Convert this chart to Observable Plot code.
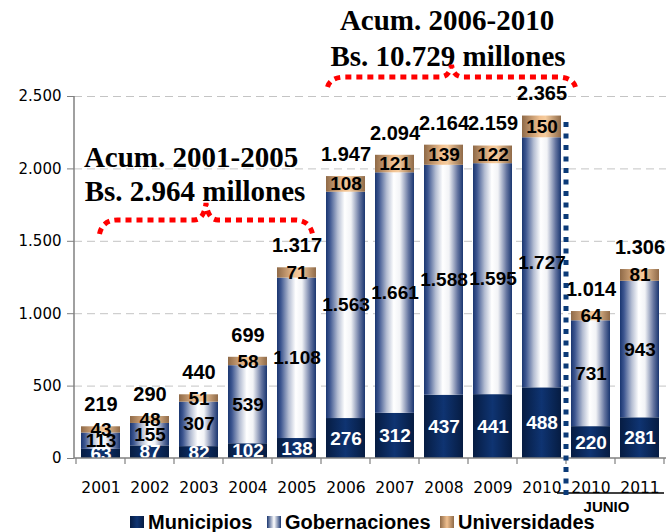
<!DOCTYPE html>
<html>
<head>
<meta charset="utf-8">
<script src="https://cdn.jsdelivr.net/npm/d3@7"></script>
<script src="https://cdn.jsdelivr.net/npm/@observablehq/plot@0.6"></script>
<style>
  html, body { margin: 0; padding: 0; background: #fff; }
  #wrap { width: 669px; height: 532px; position: relative; overflow: hidden; }
  #legend { position: absolute; left: 0; top: 512px; width: 669px; height: 20px;
            font-family: Arial, "Liberation Sans", sans-serif; font-weight: bold; font-size: 20px; color: #000; }
  .item { position: absolute; top: 0; height: 20px; display: flex; align-items: center; white-space: nowrap; }
  .sw { display: inline-block; width: 14px; height: 12px; margin-right: 4px; }
</style>
</head>
<body>
<div id="wrap">
  <div id="chart"></div>
  <div id="legend"></div>
</div>
<script>
// ---------------- data ----------------
const categories = ["2001","2002","2003","2004","2005","2006","2007","2008","2009","2010","2010 jun","2011 jun"];
const tickLabels = ["2001","2002","2003","2004","2005","2006","2007","2008","2009","2010","2010","2011"];
const series = ["Municipios","Gobernaciones","Universidades"];
const municipios    = [63, 87, 82, 102, 138, 276, 312, 437, 441, 488, 220, 281];
const gobernaciones = [113, 155, 307, 539, 1108, 1563, 1661, 1588, 1595, 1727, 731, 943];
const universidades = [43, 48, 51, 58, 71, 108, 121, 139, 122, 150, 64, 81];
const totals        = [219, 290, 440, 699, 1317, 1947, 2094, 2164, 2159, 2365, 1014, 1306];
const yTicks = [0, 500, 1000, 1500, 2000, 2500];
const annotPeriods = ["Acum. 2001-2005", "Acum. 2006-2010"];
const annotAmounts = ["Bs. 2.964 millones", "Bs. 10.729 millones"];
const juneLabel = "JUNIO";

// ---------------- helpers ----------------
const fmt = d3.formatLocale({decimal: ",", thousands: ".", grouping: [3], currency: ["", ""]}).format(",d");
const values = [municipios, gobernaciones, universidades];
const rows = [];
categories.forEach((c, i) => {
  let base = 0;
  series.forEach((s, j) => {
    const v = values[j][i];
    rows.push({cat: c, series: s, value: v, mid: base + v / 2});
    base += v;
  });
});
const sans = "Arial, 'Liberation Sans', sans-serif";
const serif = "'Liberation Serif', 'Times New Roman', serif";
const axisFont = "'DejaVu Sans', Verdana, sans-serif";

const chart = Plot.plot({
  width: 669,
  height: 512,
  marginTop: 96,
  marginRight: 3,
  marginBottom: 54,
  marginLeft: 74,
  style: {fontFamily: axisFont, fontSize: "15px", background: "white", color: "#000", overflow: "visible"},
  x: {domain: categories, paddingInner: 0.21, paddingOuter: 0.105, label: null},
  y: {domain: [0, 2500], label: null},
  color: {domain: series, range: ["url(#gMun)", "url(#gGob)", "url(#gUni)"]},
  marks: [
    Plot.gridY(yTicks.filter(v => v > 0), {stroke: "#c4c4c4", strokeOpacity: 1, strokeDasharray: "8,5"}),
    Plot.barY(rows, {x: "cat", y: "value", fill: "series"}),
    Plot.axisX({tickSize: 0, tickPadding: 23, tickFormat: d => tickLabels[categories.indexOf(d)],
      fontFamily: axisFont, fontSize: 15.5}),
    Plot.axisY({ticks: yTicks, tickSize: 7, tickPadding: 6, tickFormat: fmt, stroke: "#808080",
      fontFamily: axisFont, fontSize: 15}),
    Plot.text(rows, {x: "cat", y: "mid", text: d => fmt(d.value),
      fill: d => d.series === "Municipios" ? "white" : "black",
      fontFamily: sans, fontWeight: "bold", fontSize: 19}),
    Plot.text(categories, {x: d => d, y: (d, i) => totals[i], text: (d, i) => fmt(totals[i]),
      dy: -22, fontFamily: sans, fontWeight: "bold", fontSize: 20, fill: "black"}),
    Plot.text([annotPeriods[0]], {x: () => "2003", y: () => 2074, dx: -8, text: d => d,
      fontFamily: serif, fontWeight: "bold", fontSize: 29, fill: "black"}),
    Plot.text([annotAmounts[0]], {x: () => "2003", y: () => 1843, dx: -4, text: d => d,
      fontFamily: serif, fontWeight: "bold", fontSize: 29, fill: "black"}),
    Plot.text([annotPeriods[1]], {x: () => "2008", y: () => 3020, dx: 3, text: d => d,
      fontFamily: serif, fontWeight: "bold", fontSize: 29, fill: "black"}),
    Plot.text([annotAmounts[1]], {x: () => "2008", y: () => 2778, dx: 4, text: d => d,
      fontFamily: serif, fontWeight: "bold", fontSize: 29, fill: "black"})
  ]
});
document.getElementById("chart").appendChild(chart);

// ---------------- gradients and extra drawing using the plot's scales ----------------
const svg = d3.select(chart);
const defs = svg.insert("defs", ":first-child");
function grad(id, stops) {
  const g = defs.append("linearGradient").attr("id", id).attr("x1", "0").attr("x2", "1").attr("y1", "0").attr("y2", "0");
  stops.forEach(([o, c]) => g.append("stop").attr("offset", o).attr("stop-color", c));
}
grad("gMun", [["0%", "#061c42"], ["50%", "#0f3472"], ["100%", "#061c42"]]);
grad("gGob", [["0%", "#1a3670"], ["10%", "#3d5690"], ["30%", "#b4bdd2"], ["48%", "#ffffff"], ["64%", "#f2f3f6"], ["86%", "#6575a0"], ["100%", "#1a3670"]]);
grad("gUni", [["0%", "#8f6a48"], ["45%", "#f0c090"], ["60%", "#f6cc9e"], ["100%", "#8f6a48"]]);

const xs = chart.scale("x"), ys = chart.scale("y");
const bw = xs.bandwidth;
const step = xs.step || (xs.range[1] - xs.range[0]) / (categories.length - 0.21 + 0.21);
const boundary = i => i < categories.length ? xs.apply(categories[i]) - (step - bw) / 2 : xs.apply(categories[categories.length - 1]) + bw + (step - bw) / 2;
const xc = c => xs.apply(c) + bw / 2;
const y0 = ys.apply(0);

const extra = svg.append("g");
// axis lines
extra.append("line").attr("x1", xs.range[0]).attr("x2", xs.range[0]).attr("y1", ys.apply(2500)).attr("y2", y0)
  .attr("stroke", "#808080").attr("stroke-width", 1.5);
extra.append("line").attr("x1", xs.range[0]).attr("x2", xs.range[1]).attr("y1", y0).attr("y2", y0)
  .attr("stroke", "#808080").attr("stroke-width", 1.5);
for (let i = 0; i <= categories.length; i++) {
  const bx = boundary(i);
  extra.append("line").attr("x1", bx).attr("x2", bx).attr("y1", y0).attr("y2", y0 + 6)
    .attr("stroke", "#808080").attr("stroke-width", 1.2);
}
// JUNIO underline and label
const jx1 = boundary(10) - 9, jx2 = xs.range[1] - 2;
extra.append("line").attr("x1", jx1).attr("x2", jx2).attr("y1", y0 + 35).attr("y2", y0 + 35)
  .attr("stroke", "#000").attr("stroke-width", 1.6);
extra.append("text").attr("x", (jx1 + jx2) / 2 - 4).attr("y", y0 + 49).attr("dy", "0.35em")
  .attr("text-anchor", "middle").attr("font-family", sans).attr("font-weight", "bold").attr("font-size", 15)
  .attr("fill", "#000").text(juneLabel);
// dotted separator
extra.append("line").attr("x1", boundary(10)).attr("x2", boundary(10)).attr("y1", ys.apply(2320)).attr("y2", y0 + 42)
  .attr("stroke", "#0b3a78").attr("stroke-width", 5).attr("stroke-dasharray", "5,6.5");
// braces
function brace(xa, xb, yEnd, yH, yPeak) {
  const xm = (xa + xb) / 2;
  const p = d3.path();
  p.moveTo(xa, yEnd);
  p.quadraticCurveTo(xa + 3, yH, xa + 18, yH);
  p.lineTo(xm - 12, yH);
  p.quadraticCurveTo(xm - 2, yH, xm, yPeak);
  p.quadraticCurveTo(xm + 2, yH, xm + 12, yH);
  p.lineTo(xb - 18, yH);
  p.quadraticCurveTo(xb - 3, yH, xb, yEnd);
  extra.append("path").attr("d", p.toString()).attr("fill", "none").attr("stroke", "#ff0000")
    .attr("stroke-width", 5).attr("stroke-dasharray", "6,5");
}
brace(xc("2001") - 1, xc("2005") + 16, ys.apply(1547), ys.apply(1644), ys.apply(1761));
brace(xc("2006") - 18, xc("2010") + 34, ys.apply(2562), ys.apply(2631), ys.apply(2714));

// ---------------- legend ----------------
const legendPos = [{sw: 130, bg: "linear-gradient(90deg,#061c42,#0f3472,#061c42)"},
                   {sw: 267, bg: "linear-gradient(90deg,#1a3670,#ffffff 50%,#1a3670)"},
                   {sw: 440, bg: "linear-gradient(90deg,#8f6a48,#f0c090 50%,#8f6a48)"}];
const legend = d3.select("#legend");
series.forEach((s, i) => {
  const it = legend.append("div").attr("class", "item").style("left", legendPos[i].sw + "px");
  it.append("span").attr("class", "sw").style("background", legendPos[i].bg);
  it.append("span").text(s);
});
</script>
</body>
</html>
